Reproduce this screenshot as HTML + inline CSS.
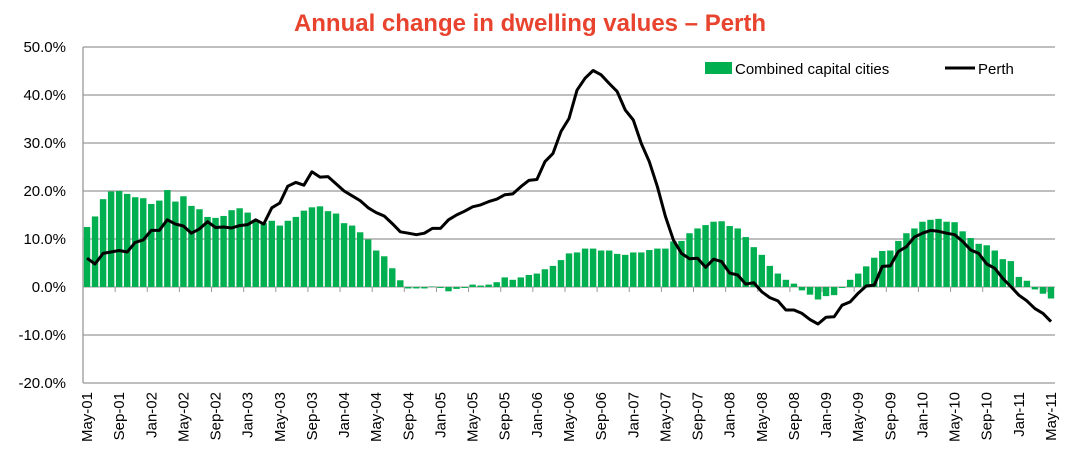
<!DOCTYPE html>
<html><head><meta charset="utf-8"><style>
body{margin:0;background:#fff;}
svg{display:block;font-family:"Liberation Sans",sans-serif;}
</style></head><body>
<svg id="chart" width="1086" height="469">
<text x="530" y="31" text-anchor="middle" font-size="24" font-weight="bold" fill="#e8432e">Annual change in dwelling values – Perth</text>
<g>
<rect x="705" y="62" width="27" height="12" fill="#00b050"></rect>
<text x="735" y="74" font-size="15" fill="#000">Combined capital cities</text>
<line x1="945" y1="68" x2="975" y2="68" stroke="#000" stroke-width="3"></line>
<text x="978" y="74" font-size="15" fill="#000">Perth</text>
</g>
</svg>
<script>
const months=["Jan","Feb","Mar","Apr","May","Jun","Jul","Aug","Sep","Oct","Nov","Dec"];
const yTicks=[50,40,30,20,10,0,-10,-20];
const combined=[12.5,14.7,18.3,19.9,20.0,19.4,18.7,18.5,17.3,18.0,20.2,17.8,18.9,16.9,16.2,14.6,14.4,14.8,16.0,16.4,15.5,14.0,13.3,13.8,12.8,13.8,14.6,15.9,16.6,16.8,15.8,15.3,13.3,12.8,11.4,9.9,7.6,6.4,3.9,1.4,-0.3,-0.3,-0.3,0.1,-0.2,-0.9,-0.4,-0.2,0.5,0.3,0.5,1.0,2.0,1.5,2.0,2.5,2.8,3.7,4.4,5.6,7.0,7.2,8.0,8.0,7.6,7.6,6.9,6.7,7.2,7.2,7.7,8.0,8.0,9.5,9.6,11.2,12.2,12.9,13.6,13.7,12.7,12.2,10.4,8.3,6.7,4.4,2.8,1.5,0.7,-0.7,-1.6,-2.6,-1.9,-1.7,-0.2,1.5,2.8,4.3,6.1,7.5,7.6,9.6,11.2,12.2,13.6,14.0,14.2,13.6,13.5,11.6,10.2,9.0,8.7,7.6,5.8,5.4,2.1,1.3,-0.5,-1.4,-2.4];
const perth=[6.0,4.8,7.0,7.3,7.6,7.3,9.3,9.8,11.8,11.8,14.0,13.1,12.7,11.2,12.1,13.6,12.4,12.5,12.3,12.8,13.0,14.0,13.1,16.5,17.5,21.0,21.8,21.2,24.0,22.9,23.0,21.5,20.0,19.0,18.0,16.5,15.5,14.8,13.2,11.5,11.2,10.9,11.2,12.2,12.2,14.0,15.0,15.8,16.7,17.1,17.8,18.3,19.2,19.4,20.9,22.2,22.4,26.1,27.8,32.4,35.1,41.0,43.5,45.1,44.2,42.4,40.7,36.9,34.8,29.9,26.1,20.9,14.7,9.8,7.0,5.9,6.0,4.1,5.8,5.3,2.9,2.5,0.6,0.9,-1.0,-2.2,-2.9,-4.8,-4.8,-5.5,-6.8,-7.7,-6.3,-6.2,-3.8,-3.1,-1.3,0.2,0.4,4.3,4.4,7.4,8.4,10.4,11.2,11.8,11.6,11.2,10.9,9.5,7.7,7.0,4.8,3.9,1.8,0.1,-1.7,-2.9,-4.5,-5.5,-7.2];
const svg=document.getElementById('chart');
const NS="http://www.w3.org/2000/svg";
const X0=83,X1=1055,N=combined.length;
const bw=(X1-X0)/N;
function xs(i){return X0+bw*(i+0.5);}
function ys(v){return 287-v*4.8;}
function mk(t,a){const e=document.createElementNS(NS,t);for(const k in a)e.setAttribute(k,a[k]);svg.appendChild(e);return e;}
yTicks.forEach(v=>{
 const g=mk('line',{x1:X0,x2:X1,y1:ys(v),y2:ys(v),stroke:v===0?'#aaa':'#999','stroke-width':1.3});
 
 
 const t=mk('text',{x:66,y:ys(v)+5,'text-anchor':'end','font-size':15,fill:'#000'});
 t.textContent=v.toFixed(1)+'%';
 
 
});
const ax=mk('line',{x1:X0,x2:X0,y1:ys(50),y2:ys(-20),stroke:'#999','stroke-width':1.3});


combined.forEach((v,i)=>{
 const y=Math.min(ys(v),ys(0));
 const r=mk('rect',{x:xs(i)-bw*0.4,y:y,width:bw*0.8,height:Math.max(Math.abs(ys(v)-ys(0)),0.5),fill:'#00b050'});
 
 
});
for(let i=0;i<=N;i+=4){
 const tk=mk('line',{x1:X0+bw*i,x2:X0+bw*i,y1:ys(0),y2:ys(0)+5,stroke:'#999','stroke-width':1});
 
 
}
for(let i=0;i<N;i+=4){
 const m=(4+i)%12,yr=1+Math.floor((4+i)/12);
 const lab=months[m]+'-'+String(yr).padStart(2,'0');
 const t=mk('text',{transform:`translate(${xs(i)+5},392) rotate(-90)`,'text-anchor':'end','font-size':15,fill:'#000'});
 t.textContent=lab;
 
 
}
const p=mk('path',{d:perth.map((v,i)=>(i?'L':'M')+xs(i).toFixed(1)+','+ys(v).toFixed(1)).join(''),fill:'none',stroke:'#000','stroke-width':3,'stroke-linejoin':'round'});


</script>
</body></html>
